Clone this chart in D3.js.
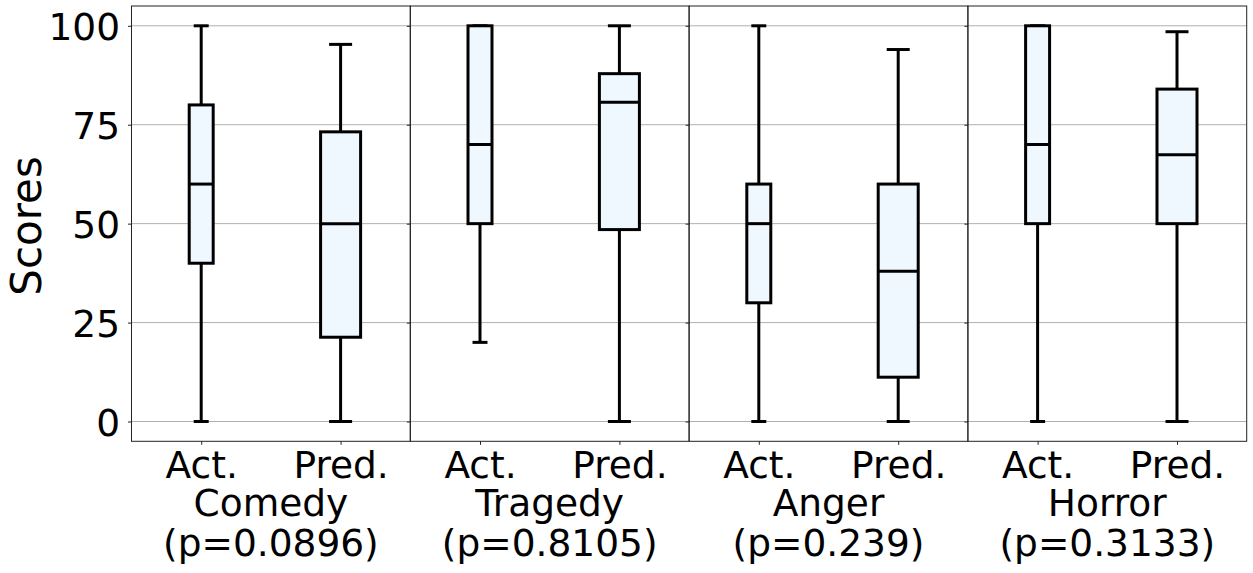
<!DOCTYPE html>
<html>
<head>
<meta charset="utf-8">
<script src="https://cdn.jsdelivr.net/npm/d3@7"></script>
<style>
  body { margin: 0; background: #fff; }
  svg text { font-family: "DejaVu Sans", sans-serif; fill: #000; }
</style>
</head>
<body>
<div class="graph"></div>
<script>
// categories and p values shown under each panel
const categories = ["Comedy", "Tragedy", "Anger", "Horror"];
const pValues = ["0.0896", "0.8105", "0.239", "0.3133"];
const groups = ["Act.", "Pred."];

// box stats (whisker low, Q1, median, Q3, whisker high)
const actLow = [0, 20, 0, 0];
const actQ1 = [40, 50, 30, 50];
const actMed = [60, 70, 50, 70];
const actQ3 = [80, 100, 60, 100];
const actHigh = [100, 100, 100, 100];

const predLow = [0, 0, 0, 0];
const predQ1 = [21.3, 48.5, 11.2, 50];
const predMed = [50, 80.7, 38, 67.4];
const predQ3 = [73.2, 87.9, 60, 84];
const predHigh = [95.3, 100, 94, 98.5];

const yTicks = [0, 25, 50, 75, 100];

let width = 1253;
let height = 573;
let plotLeft = 131.5, plotRight = 1246.7, plotTop = 6, plotBottom = 441.3;
let fontSize = 37.5;

let svg = d3.select(".graph")
	.append("svg")
	.attr("width", width)
	.attr("height", height);

let y = d3.scaleLinear().domain([-5, 105]).range([plotBottom, plotTop]);
let panel = d3.scaleBand().domain(categories).range([plotLeft, plotRight]).padding(0);
let pw = panel.bandwidth();
// inside each panel the two boxes sit at 1 and 2
let xIn = d3.scaleLinear().domain([0.5, 2.5]).range([0, pw]);
let boxWidth = [0.172, 0.287];

// build rows for the boxes
let boxes = [];
categories.forEach(function(c, i){
	boxes.push({cat: c, pos: 1, low: actLow[i], q1: actQ1[i], med: actMed[i], q3: actQ3[i], high: actHigh[i], w: boxWidth[0]});
	boxes.push({cat: c, pos: 2, low: predLow[i], q1: predQ1[i], med: predMed[i], q3: predQ3[i], high: predHigh[i], w: boxWidth[1]});
});

// grid lines
svg.append("g")
	.selectAll("line")
	.data(yTicks)
	.enter().append("line")
	.attr("x1", plotLeft).attr("x2", plotRight)
	.attr("y1", d => y(d)).attr("y2", d => y(d))
	.attr("stroke", "#b0b0b0")
	.attr("stroke-width", 1);

let panels = svg.selectAll(".panel")
	.data(categories)
	.enter().append("g")
	.attr("class", "panel")
	.attr("transform", d => "translate(" + panel(d) + ",0)");

// y ticks on each panel, labels only on the first
panels.each(function(d, i){
	let ax = d3.axisLeft(y).tickValues(yTicks).tickSize(3.5).tickPadding(8);
	if (i > 0) ax.tickFormat("");
	let g = d3.select(this).append("g").call(ax);
	g.select(".domain").remove();
	g.selectAll(".tick line").attr("stroke", "#222");
	g.selectAll("text")
		.style("font-size", fontSize + "px")
		.style("font-family", "DejaVu Sans")
		.attr("dy", "0.36em");

	let bx = d3.axisBottom(xIn).tickValues([1, 2]).tickFormat(v => groups[v - 1]).tickSize(3.5).tickPadding(7);
	let gb = d3.select(this).append("g")
		.attr("transform", "translate(0," + plotBottom + ")")
		.call(bx);
	gb.select(".domain").remove();
	gb.selectAll(".tick line").attr("stroke", "#222");
	gb.selectAll("text")
		.style("font-size", fontSize + "px")
		.style("font-family", "DejaVu Sans");

	// category name and p value
	d3.select(this).append("text")
		.attr("x", pw / 2).attr("y", 516)
		.attr("text-anchor", "middle")
		.style("font-size", fontSize + "px")
		.text(d);
	d3.select(this).append("text")
		.attr("x", pw / 2).attr("y", 556)
		.attr("text-anchor", "middle")
		.style("font-size", fontSize + "px")
		.text("(p=" + pValues[i] + ")");
});

// boxes
let bg = svg.append("g").selectAll(".box")
	.data(boxes)
	.enter().append("g")
	.attr("class", "box")
	.attr("transform", d => "translate(" + panel(d.cat) + ",0)");

let halfPx = d => (xIn(d.pos + d.w / 2) - xIn(d.pos - d.w / 2)) / 2;

bg.append("line")
	.attr("x1", d => xIn(d.pos)).attr("x2", d => xIn(d.pos))
	.attr("y1", d => y(d.q3)).attr("y2", d => y(d.high))
	.attr("stroke", "#000").attr("stroke-width", 3);
bg.append("line")
	.attr("x1", d => xIn(d.pos)).attr("x2", d => xIn(d.pos))
	.attr("y1", d => y(d.q1)).attr("y2", d => y(d.low))
	.attr("stroke", "#000").attr("stroke-width", 3);

// caps, half the box width
bg.selectAll(".cap")
	.data(d => [d.low, d.high].map(v => ({v: v, d: d})))
	.enter().append("line")
	.attr("class", "cap")
	.attr("x1", e => xIn(e.d.pos) - halfPx(e.d) / 2)
	.attr("x2", e => xIn(e.d.pos) + halfPx(e.d) / 2)
	.attr("y1", e => y(e.v)).attr("y2", e => y(e.v))
	.attr("stroke", "#000").attr("stroke-width", 3)
	.attr("stroke-linecap", "square");

bg.append("rect")
	.attr("x", d => xIn(d.pos) - halfPx(d))
	.attr("width", d => 2 * halfPx(d))
	.attr("y", d => y(d.q3))
	.attr("height", d => y(d.q1) - y(d.q3))
	.attr("fill", "aliceblue")
	.attr("stroke", "#000").attr("stroke-width", 3);

bg.append("line")
	.attr("x1", d => xIn(d.pos) - halfPx(d))
	.attr("x2", d => xIn(d.pos) + halfPx(d))
	.attr("y1", d => y(d.med)).attr("y2", d => y(d.med))
	.attr("stroke", "#000").attr("stroke-width", 3);

// panel frames
panels.append("rect")
	.attr("x", 0).attr("y", plotTop)
	.attr("width", pw).attr("height", plotBottom - plotTop)
	.attr("fill", "none")
	.attr("stroke", "#222").attr("stroke-width", 1);

svg.append("text")
	.attr("transform", "translate(41,226) rotate(-90)")
	.attr("text-anchor", "middle")
	.style("font-size", "42px")
	.text("Scores");
</script>
</body>
</html>
